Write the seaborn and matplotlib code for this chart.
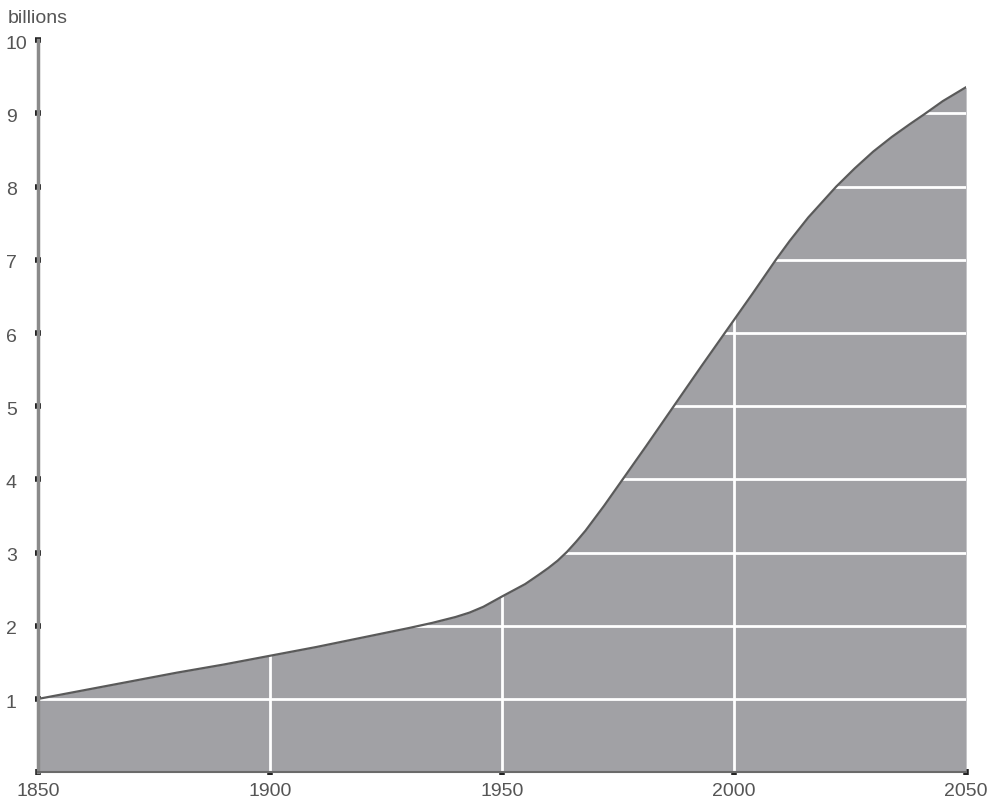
import matplotlib
matplotlib.use("Agg")
import matplotlib.pyplot as plt
import matplotlib.transforms as mtransforms
import seaborn as sns
import pandas as pd
from matplotlib.patches import Polygon

years = [1850, 1860, 1870, 1880, 1890, 1900, 1910, 1920, 1930, 1935, 1940, 1943,
         1946, 1950, 1955, 1958, 1960, 1962, 1964, 1966, 1968, 1972, 1976, 1981,
         1987, 1993, 1998, 2004, 2009, 2012, 2016, 2019, 2022, 2026, 2030, 2034,
         2038, 2041, 2045, 2050]
population = [1.00, 1.12, 1.24, 1.36, 1.47, 1.59, 1.71, 1.84, 1.97, 2.04, 2.12, 2.18,
              2.26, 2.40, 2.57, 2.70, 2.79, 2.89, 3.01, 3.15, 3.30, 3.64, 4.00, 4.45,
              5.00, 5.55, 6.00, 6.54, 7.00, 7.26, 7.58, 7.79, 8.00, 8.25, 8.48, 8.68,
              8.86, 8.99, 9.17, 9.36]
x_ticks = [1850, 1900, 1950, 2000, 2050]
y_ticks = [1, 2, 3, 4, 5, 6, 7, 8, 9, 10]
h_grid = [1, 2, 3, 4, 5, 6, 7, 8, 9]
v_grid = [1900, 1950, 2000]

df = pd.DataFrame({"year": years, "pop": population})

sns.set_theme(style="white")
plt.rcParams["font.family"] = ["Liberation Sans Narrow", "Liberation Sans", "DejaVu Sans"]

fig = plt.figure(figsize=(9.96, 8.06), dpi=100)
ax = fig.add_axes([0.038, 0.042, 0.932, 0.908])

fill_color = "#a1a1a5"
ax.fill_between(df["year"], 0, df["pop"], color=fill_color, linewidth=0, zorder=1)
sns.lineplot(data=df, x="year", y="pop", ax=ax, color="#5a5a5a", linewidth=1.6, zorder=4)

verts = [(years[0], 0)] + list(zip(years, population)) + [(years[-1], 0)]
clip = Polygon(verts, closed=True, transform=ax.transData, facecolor="none", edgecolor="none")
ax.add_patch(clip)
for yv in h_grid:
    ln = ax.axhline(yv, color="white", linewidth=2, zorder=2)
    ln.set_clip_path(clip)
for xv in v_grid:
    ln = ax.axvline(xv, color="white", linewidth=2, zorder=2)
    ln.set_clip_path(clip)

ax.set_xlim(1850, 2050)
ax.set_ylim(0, 10)
ax.set_xticks(x_ticks)
ax.set_yticks(y_ticks)
ax.set_xlabel("")
ax.set_ylabel("")
for s in ["top", "right"]:
    ax.spines[s].set_visible(False)
ax.spines["left"].set_color("#8a8a8a")
ax.spines["left"].set_linewidth(2.5)
ax.spines["bottom"].set_color("#6a6a6a")
ax.spines["bottom"].set_linewidth(1.5)
for sp in ax.spines.values():
    sp.set_zorder(5)
ax.tick_params(axis="both", which="major", direction="inout", length=4, width=4,
               color="#222222", labelsize=14, labelcolor="#555555", left=True, bottom=True)
ax.tick_params(axis="y", pad=21)
ax.tick_params(axis="x", pad=6)

offset = mtransforms.ScaledTranslation(0, -1.5 / 72, fig.dpi_scale_trans)
for lab in ax.get_yticklabels():
    lab.set_horizontalalignment("left")
    lab.set_transform(lab.get_transform() + offset)

fig.text(0.008, 0.977, "billions", fontsize=14, color="#555555", ha="left", va="center")

fig.savefig("out.png", dpi=100)
